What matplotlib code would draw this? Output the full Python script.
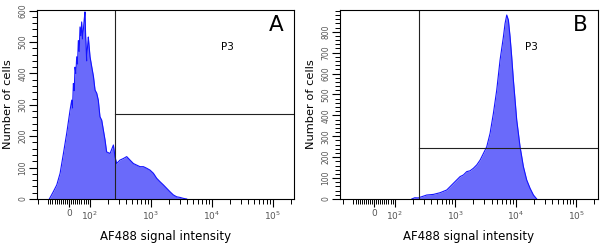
import numpy as np
import matplotlib.pyplot as plt
from matplotlib.ticker import FixedLocator

# Panel A histogram (AF488 intensity, cell count)
a_x = [-95, -76, -59, -43, -27, -11, 5, 13, 17, 21, 25, 29, 33, 37, 41, 45, 49, 53, 57, 61,
       65, 69, 73, 77, 80, 82, 85, 88, 91, 93,
       101, 108, 115, 122, 130, 138, 147, 157, 167, 178, 189, 215, 244, 259, 276,
       313, 356, 403, 457, 519, 587, 667, 757, 857, 973,
       1104, 1250, 1419, 1607, 1824, 2070, 2344, 2661, 3020, 3420, 3882]
a_y = [0, 23, 45, 82, 145, 210, 283, 315, 290, 368, 345, 420, 400, 453, 430, 505, 470, 548, 520, 564,
       510, 538, 570, 596, 520, 495, 440, 474, 500, 516,
       453, 420, 390, 347, 337, 315, 262, 251, 220, 188, 150, 145, 172, 135, 113,
       124, 129, 135, 124, 113, 108, 103, 103, 98, 92,
       82, 66, 55, 45, 34, 23, 13, 7, 5, 2, 0]

# Panel B histogram
b_x = [192, 215, 247, 260, 281, 339, 438, 563, 726, 824, 935, 1062, 1206, 1370, 1556,
       1766, 2005, 2276, 2584, 2934, 3330, 3780, 4290, 4870, 5530,
       6280, 6690, 7130, 7590, 8090, 8610, 9180, 9790, 10420, 11110,
       11830, 12620, 13430, 15240, 17330, 19680, 22340]
b_y = [0, 6, 5, 8, 11, 19, 22, 30, 43, 59, 75, 91, 107, 115, 131,
       135, 147, 163, 186, 218, 250, 314, 410, 521, 665,
       776, 840, 880, 856, 776, 680, 569, 473, 378, 314,
       250, 202, 155, 91, 51, 19, 0]

# gate positions (x threshold, y threshold)
gate_a = (259, 270)
gate_b = (257, 245)

major_x = [0, 100, 1000, 10000, 100000]
major_lbl = ['0', r'$10^2$', r'$10^3$', r'$10^4$', r'$10^5$']
minor_x = ([-150, -100] + list(range(-90, 0, 10)) + list(range(10, 100, 10))
           + list(range(200, 1000, 100)) + list(range(2000, 10000, 1000))
           + list(range(20000, 100000, 10000)) + [200000])

fig = plt.figure(figsize=(6, 2.43), dpi=100)
fill_c = '#6a6afa'
line_c = '#1414ff'
grey = '#555555'

panels = [
    (a_x, a_y, gate_a, [0.0617, 0.1811, 0.4283, 0.7777], (-153, 2.23e5), 602, 600, 'A'),
    (b_x, b_y, gate_b, [0.5667, 0.1811, 0.4300, 0.7777], (-167, 2.30e5), 904, 800, 'B'),
]

for xs, ys, gate, pos, xlim, ytop, ymax_lbl, letter in panels:
    ax = fig.add_axes(pos)
    ax.set_xscale('symlog', linthresh=100, linscale=0.306)
    ax.fill_between(xs, ys, 0, color=fill_c, lw=0)
    ax.plot(xs, ys, color=line_c, lw=0.8)
    ax.set_xlim(*xlim)
    ax.set_ylim(0, ytop)

    gx, gy = gate
    ax.axvline(gx, color='#222222', lw=0.8)
    ax.plot([gx, xlim[1]], [gy, gy], color='#222222', lw=0.8)

    ax.xaxis.set_major_locator(FixedLocator(major_x))
    ax.set_xticklabels(major_lbl)
    ax.xaxis.set_minor_locator(FixedLocator(minor_x))
    ax.yaxis.set_major_locator(FixedLocator(list(range(0, ymax_lbl + 1, 100))))
    ax.yaxis.set_minor_locator(FixedLocator(list(range(0, ytop, 20))))
    ax.tick_params(axis='x', which='major', length=6, width=0.8, labelsize=6.5,
                   labelcolor=grey, pad=1.5)
    ax.tick_params(axis='x', which='minor', length=3.5, width=0.7)
    ax.tick_params(axis='y', which='major', length=5.5, width=0.8, labelsize=5.5,
                   labelcolor=grey, pad=1.5)
    ax.tick_params(axis='y', which='minor', length=3.5, width=0.7)
    for lbl in ax.get_yticklabels():
        lbl.set_rotation(90)
        lbl.set_va('center')

    for s in ax.spines.values():
        s.set_linewidth(0.8)

    ax.set_xlabel('AF488 signal intensity', fontsize=8.5)
    ax.set_ylabel('Number of cells', fontsize=8.2)
    ax.xaxis.set_label_coords(0.5, -0.165)
    ax.yaxis.set_label_coords(-0.094, 0.5)

    ax.text(0.93, 0.92, letter, transform=ax.transAxes, fontsize=15.5,
            ha='center', va='center')
    ax.text(0.74, 0.804, 'P3', transform=ax.transAxes, fontsize=7.5,
            ha='center', va='center')

fig.savefig('out.png', dpi=100)
